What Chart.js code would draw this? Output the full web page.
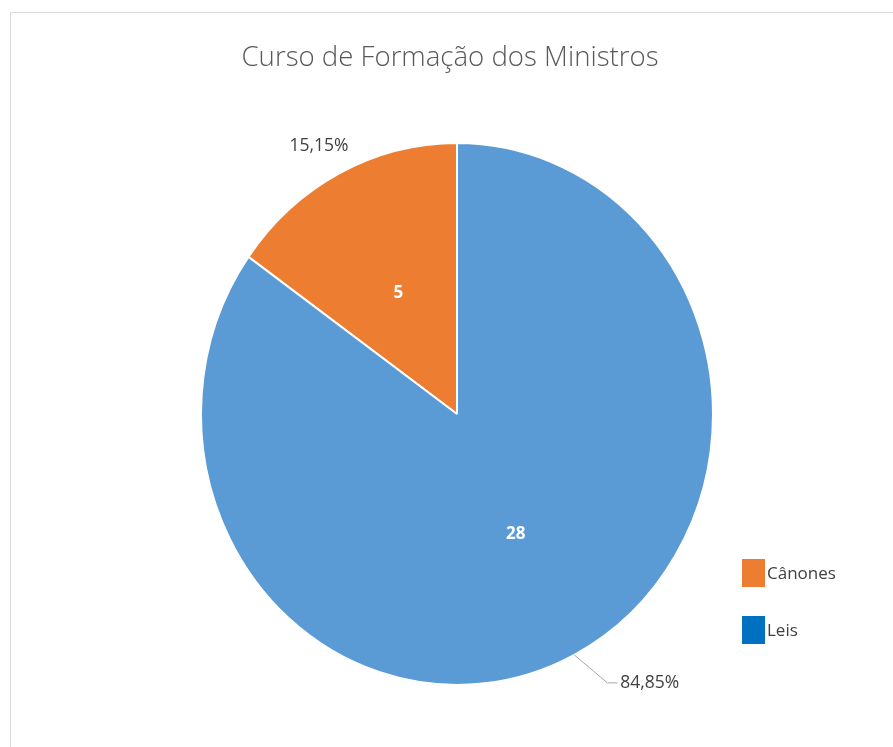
<!DOCTYPE html>
<html lang="pt">
<head>
<meta charset="utf-8">
<title>Curso de Formação dos Ministros</title>
<script src="https://cdn.jsdelivr.net/npm/chart.js@4.4.1/dist/chart.umd.min.js"></script>
<style>
  html, body { margin: 0; padding: 0; background: #fff; }
  canvas { display: block; }
</style>
</head>
<body>
<canvas id="grafico" width="893" height="747"></canvas>
<script>
// dados do gráfico
const titulo = 'Curso de Formação dos Ministros';
const categorias = ['Cânones', 'Leis'];
const valores = [5, 28];

// cores (fatias e legenda - no original a legenda de "Leis" tem outro azul)
const coresFatias = ['#ED7D31', '#5B9BD5'];
const coresLegenda = ['#ED7D31', '#0070C0'];

const total = valores.reduce((a, b) => a + b, 0);
const escalaY = 271 / 256; // o gráfico original está um pouco esticado na vertical
const fonteTexto = "'Open Sans', sans-serif";

function pct(v) {
    return (v / total * 100).toFixed(2).replace('.', ',') + '%';
}

// estica a pizza na vertical, como na imagem
const esticar = {
    id: 'esticar',
    beforeDatasetsDraw(chart) {
        const arc = chart.getDatasetMeta(0).data[0];
        const ctx = chart.ctx;
        ctx.save();
        ctx.translate(arc.x, arc.y);
        ctx.scale(1, escalaY);
        ctx.translate(-arc.x, -arc.y);
    },
    afterDatasetsDraw(chart) {
        chart.ctx.restore();
    }
};

// moldura, título, rótulos e legenda
const decoracao = {
    id: 'decoracao',
    afterDraw(chart) {
        const ctx = chart.ctx;
        ctx.save();

        // moldura
        ctx.strokeStyle = '#D9D9D9';
        ctx.lineWidth = 1;
        ctx.strokeRect(10.5, 12.5, 950, 800);

        // título
        ctx.fillStyle = '#595959';
        ctx.font = "300 27.6px 'Open Sans', sans-serif";
        ctx.textAlign = 'center';
        ctx.textBaseline = 'middle';
        ctx.fillText(titulo, 450, 58);

        // rótulos das fatias
        const meta = chart.getDatasetMeta(0);
        meta.data.forEach((arc, i) => {
            const meio = (arc.startAngle + arc.endAngle) / 2;
            const c = Math.cos(meio), s = Math.sin(meio);
            const r = arc.outerRadius;

            // valor dentro da fatia
            ctx.fillStyle = '#FFFFFF';
            ctx.font = 'bold 17px ' + fonteTexto;
            ctx.textAlign = 'center';
            ctx.fillText(String(valores[i]), arc.x + c * r * 0.5, arc.y + s * r * escalaY * 0.5);

            // percentagem fora
            ctx.fillStyle = '#404040';
            ctx.font = '17.5px ' + fonteTexto;
            const bx = arc.x + c * r, by = arc.y + s * r * escalaY;
            if (s > 0) {
                // com linha de chamada
                const ex = bx + 33, ey = by + 28;
                ctx.strokeStyle = '#A6A6A6';
                ctx.lineWidth = 1;
                ctx.beginPath();
                ctx.moveTo(bx, by);
                ctx.lineTo(ex, ey);
                ctx.lineTo(ex + 10, ey);
                ctx.stroke();
                ctx.textAlign = 'left';
                ctx.fillText(pct(valores[i]), ex + 13, ey);
            } else {
                ctx.textAlign = 'center';
                ctx.fillText(pct(valores[i]), arc.x + c * (r + 45), arc.y + s * (r * escalaY + 30));
            }
        });

        // legenda
        categorias.forEach((nome, i) => {
            const y = 559 + i * 57;
            ctx.fillStyle = coresLegenda[i];
            ctx.fillRect(742, y, 23, 28);
            ctx.fillStyle = '#404040';
            ctx.font = '17px ' + fonteTexto;
            ctx.textAlign = 'left';
            ctx.fillText(nome, 767, y + 15);
        });

        ctx.restore();
    }
};

const ctx = document.getElementById('grafico').getContext('2d');
const grafico = new Chart(ctx, {
    type: 'pie',
    data: {
        labels: categorias,
        datasets: [{
            data: valores,
            backgroundColor: coresFatias,
            borderColor: '#FFFFFF',
            borderWidth: 2
        }]
    },
    options: {
        responsive: false,
        animation: false,
        rotation: -(valores[0] / total) * 360,
        layout: {
            padding: { left: 199, right: 178, top: 157, bottom: 76 }
        },
        plugins: {
            legend: { display: false },
            tooltip: { enabled: false }
        }
    },
    plugins: [esticar, decoracao]
});
</script>
</body>
</html>
